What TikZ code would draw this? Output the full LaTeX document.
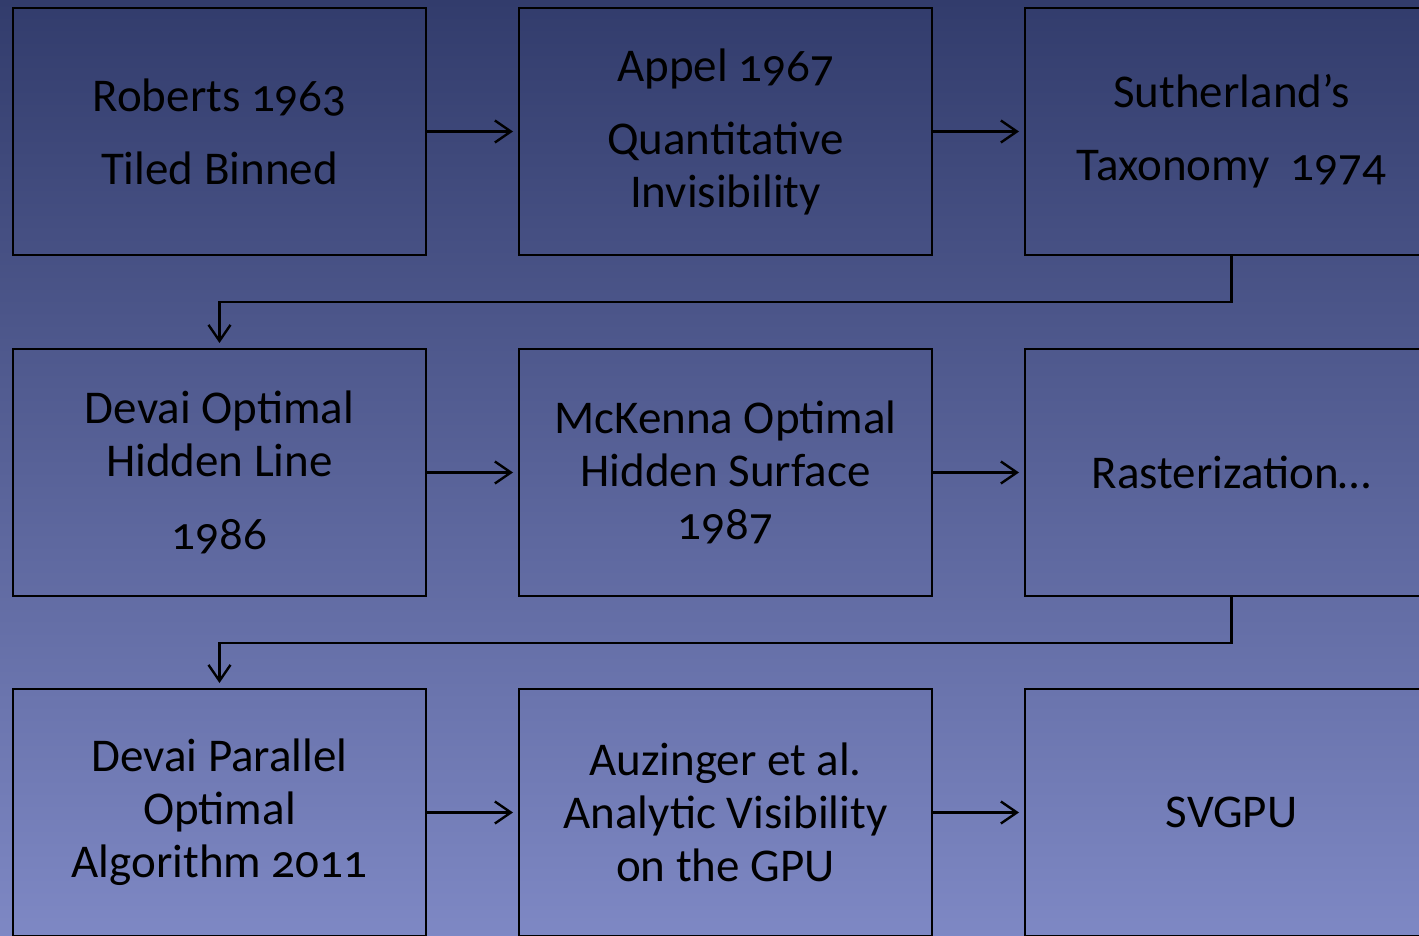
\documentclass[tikz,border=0pt]{standalone}
\usepackage{fontspec}
\setmainfont{Carlito}[Numbers=OldStyle]
\usetikzlibrary{positioning,arrows.meta}

\definecolor{bgtop}{RGB}{50,60,108}
\definecolor{bgmid}{RGB}{78,90,156}
\definecolor{bgbot}{RGB}{126,136,196}

\begin{document}
\begin{tikzpicture}[x=1pt,y=-1pt,
	stage/.style={rectangle,draw=black,line width=2pt,minimum width=413pt,minimum height=247pt,
		inner sep=0pt,align=center,font=\fontsize{47pt}{53pt}\selectfont,text=black},
	link/.style={line width=2.4pt,shorten >=5pt,-{Straight Barb[length=16pt,width=22pt,line width=2.4pt]}}]
	\useasboundingbox (0,0) rectangle (1419,936);
	\clip (0,0) rectangle (1419,936);
	\shade[top color=bgtop,middle color=bgmid,bottom color=bgbot] (0,0) rectangle (1419,936);

	\node (roberts)[stage] at (219.5,131.5) {Roberts 1963\\[20pt]Tiled Binned};
	\node (appel)[stage,right=91pt of roberts] {Appel 1967\\[20pt]Quantitative\\Invisibility};
	\node (sutherland)[stage,right=91pt of appel] {Sutherland’s\\[20pt]Taxonomy~~1974};

	\node (devaiopt)[stage,below=92pt of roberts] {Devai Optimal\\Hidden Line\\[20pt]1986};
	\node (mckenna)[stage,right=91pt of devaiopt] {McKenna Optimal\\Hidden Surface\\1987};
	\node (raster)[stage,right=91pt of mckenna] {Rasterization…};

	\node (devaipar)[stage,below=91pt of devaiopt] {Devai Parallel\\Optimal\\Algorithm 2011};
	\node (auzinger)[stage,right=91pt of devaipar] {Auzinger et al.\\Analytic Visibility\\on the GPU};
	\node (svgpu)[stage,right=91pt of auzinger] {SVGPU};

	\draw[link] (roberts) -- (appel);
	\draw[link] (appel) -- (sutherland);
	\draw[link] (sutherland.south) -- ++(0,46) -| (devaiopt.north);
	\draw[link] (devaiopt) -- (mckenna);
	\draw[link] (mckenna) -- (raster);
	\draw[link] (raster.south) -- ++(0,46) -| (devaipar.north);
	\draw[link] (devaipar) -- (auzinger);
	\draw[link] (auzinger) -- (svgpu);
\end{tikzpicture}
\end{document}
